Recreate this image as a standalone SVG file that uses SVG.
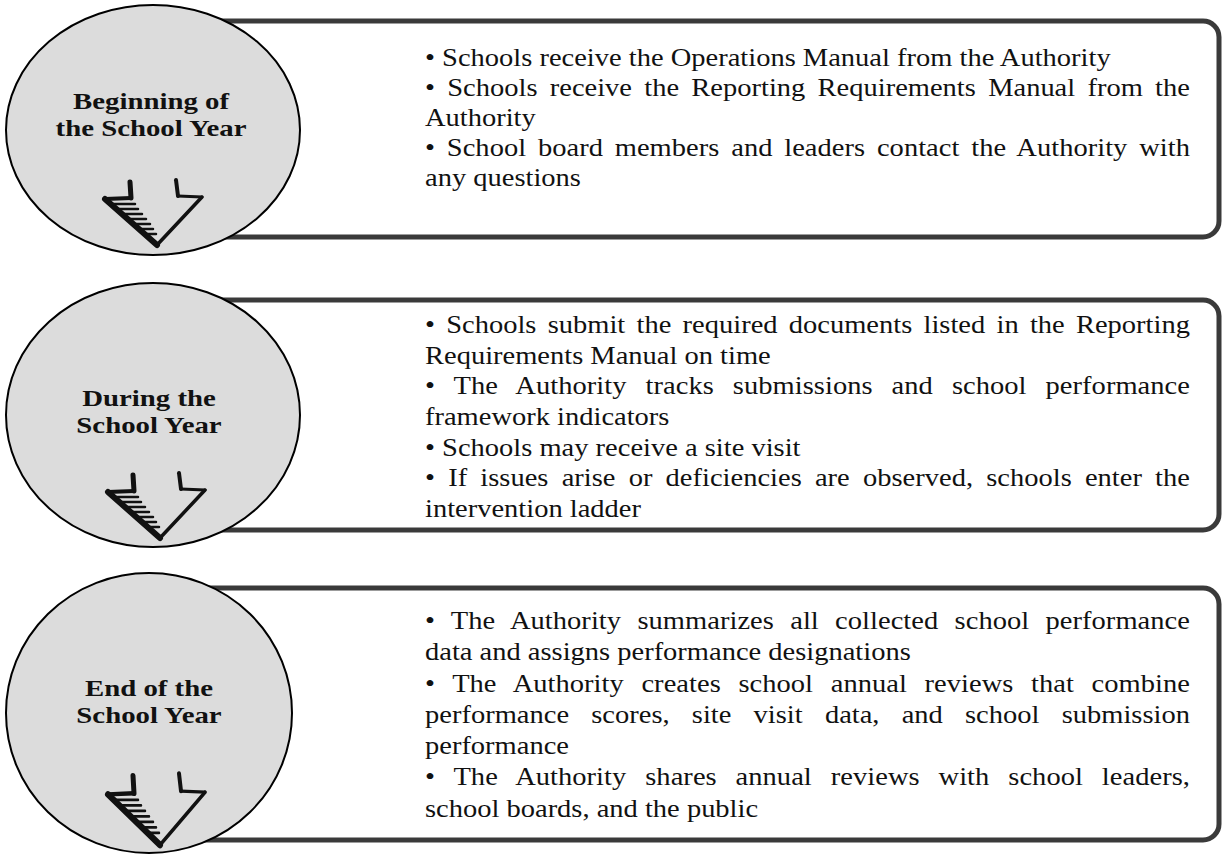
<svg xmlns="http://www.w3.org/2000/svg" xmlns:xlink="http://www.w3.org/1999/xlink" width="1223" height="855" viewBox="0 0 1223 855">
<style>
.box{fill:#ffffff;stroke:#3a3a3a;stroke-width:5}
.circ{fill:#dcdcdc;stroke:#000;stroke-width:2}
.body{font-family:"Liberation Serif","Times New Roman",serif;font-size:25px;fill:#111}
.lbl{font-family:"Liberation Serif","Times New Roman",serif;font-size:24px;font-weight:bold;fill:#111;text-anchor:middle}
.ar{stroke:#111;fill:none;stroke-linecap:round;stroke-linejoin:round}
</style>
<defs>
<g id="arrow" class="ar">
<path d="M -27,-63 L -26,-47" stroke-width="5"/>
<path d="M -52,-46 L -26,-47" stroke-width="4"/>
<path d="M -52,-46 L 0,0" stroke-width="6"/>
<path d="M 0,0 L 45,-48" stroke-width="3.5"/>
<path d="M 45,-48 L 21,-49" stroke-width="3"/>
<path d="M 19,-65 L 21,-49" stroke-width="4"/>
<path d="M -46,-41 H -22 M -41,-36 H -19 M -35,-31 H -15 M -29,-26 H -11 M -24,-21 H -7 M -18,-16 H -4 M -12,-11 H -1" stroke-width="2.5"/>
</g>
</defs>
<rect width="1223" height="855" fill="#ffffff"/>

<g id="stage1">
<rect class="box" x="150" y="21" width="1069" height="216" rx="16"/>
<ellipse class="circ" cx="153" cy="130" rx="147" ry="125"/>
<g transform="translate(151,0) scale(1.2,1)">
<text class="lbl" x="0" y="109">Beginning of</text>
<text class="lbl" x="0" y="136">the School Year</text>
</g>
<use xlink:href="#arrow" transform="translate(157,245)"/>
<g transform="translate(425,0) scale(1.14,1)">
<text class="body" x="0" y="66">• Schools receive the Operations Manual from the Authority</text>
<text class="body" x="0" y="96" word-spacing="4.5" textLength="671" lengthAdjust="spacing">• Schools receive the Reporting Requirements Manual from the</text>
<text class="body" x="0" y="126">Authority</text>
<text class="body" x="0" y="156" word-spacing="4.1" textLength="671" lengthAdjust="spacing">• School board members and leaders contact the Authority with</text>
<text class="body" x="0" y="186">any questions</text>
</g>
</g>

<g id="stage2">
<rect class="box" x="150" y="300" width="1069" height="230" rx="16"/>
<ellipse class="circ" cx="153" cy="415" rx="147" ry="132"/>
<g transform="translate(149,0) scale(1.2,1)">
<text class="lbl" x="0" y="406">During the</text>
<text class="lbl" x="0" y="433">School Year</text>
</g>
<use xlink:href="#arrow" transform="translate(160,538)"/>
<g transform="translate(425,0) scale(1.14,1)">
<text class="body" x="0" y="333" word-spacing="3.6" textLength="671" lengthAdjust="spacing">• Schools submit the required documents listed in the Reporting</text>
<text class="body" x="0" y="363.7">Requirements Manual on time</text>
<text class="body" x="0" y="394.4" word-spacing="10.4" textLength="671" lengthAdjust="spacing">• The Authority tracks submissions and school performance</text>
<text class="body" x="0" y="425.1">framework indicators</text>
<text class="body" x="0" y="455.8">• Schools may receive a site visit</text>
<text class="body" x="0" y="486.5" word-spacing="5.3" textLength="671" lengthAdjust="spacing">• If issues arise or deficiencies are observed, schools enter the</text>
<text class="body" x="0" y="517.2">intervention ladder</text>
</g>
</g>

<g id="stage3">
<rect class="box" x="150" y="588" width="1069" height="252" rx="16"/>
<ellipse class="circ" cx="149" cy="713" rx="143" ry="140"/>
<g transform="translate(149,0) scale(1.2,1)">
<text class="lbl" x="0" y="696">End of the</text>
<text class="lbl" x="0" y="723">School Year</text>
</g>
<use xlink:href="#arrow" transform="translate(160,845) scale(1,1.1)"/>
<g transform="translate(425,0) scale(1.14,1)">
<text class="body" x="0" y="629" word-spacing="8" textLength="671" lengthAdjust="spacing">• The Authority summarizes all collected school performance</text>
<text class="body" x="0" y="660.3">data and assigns performance designations</text>
<text class="body" x="0" y="691.6" word-spacing="9.2" textLength="671" lengthAdjust="spacing">• The Authority creates school annual reviews that combine</text>
<text class="body" x="0" y="722.9" word-spacing="13.2" textLength="671" lengthAdjust="spacing">performance scores, site visit data, and school submission</text>
<text class="body" x="0" y="754.2">performance</text>
<text class="body" x="0" y="785.5" word-spacing="10.3" textLength="671" lengthAdjust="spacing">• The Authority shares annual reviews with school leaders,</text>
<text class="body" x="0" y="816.8">school boards, and the public</text>
</g>
</g>
</svg>
